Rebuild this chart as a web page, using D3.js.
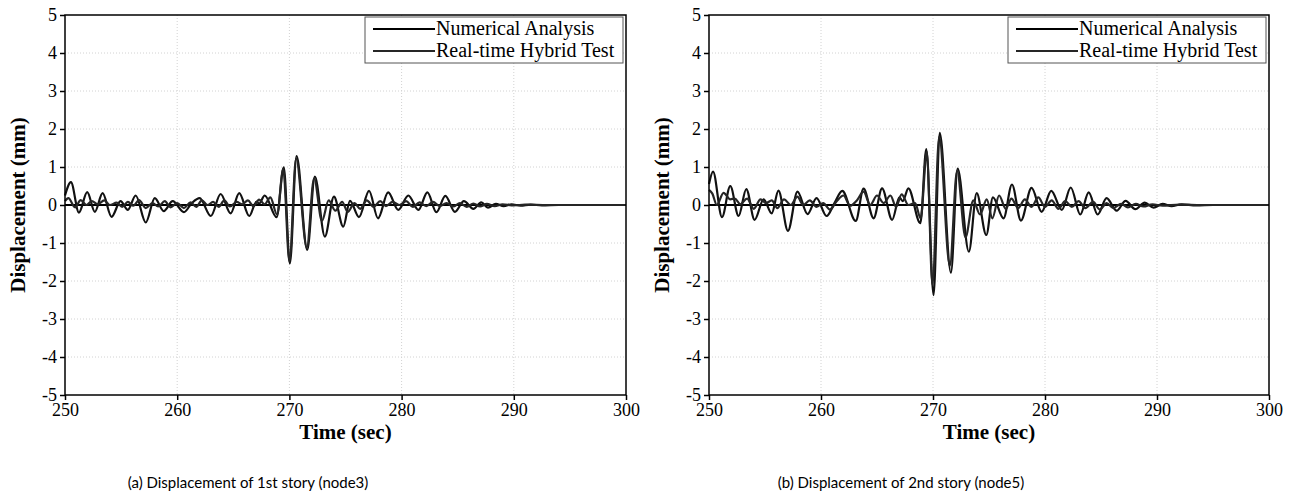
<!DOCTYPE html>
<html>
<head>
<meta charset="utf-8">
<script src="https://cdn.jsdelivr.net/npm/d3@7"></script>
<style>
  body { margin: 0; background: #fff; }
  svg text { fill: #000; }
</style>
</head>
<body>
<div class="figure"></div>
<script>
// ---- data (time in sec, displacement in mm) ----
const xTickValues = [250, 260, 270, 280, 290, 300];
const yTickValues = [-5, -4, -3, -2, -1, 0, 1, 2, 3, 4, 5];
const seriesNames = ["Numerical Analysis", "Real-time Hybrid Test"];
const captions = ["(a) Displacement of 1st story (node3)", "(b) Displacement of 2nd story (node5)"];

// 1st story (node3)
const node3Numerical = [
  [250.0, 0.25], [250.53, 0.60], [251.24, -0.20], [251.98, 0.34], [252.66, -0.18], [253.35, 0.31],
  [254.15, -0.31], [254.95, 0.10], [255.6, -0.13], [256.3, 0.25], [257.2, -0.46], [258.0, 0.18],
  [258.8, -0.16], [259.6, 0.10], [260.6, -0.19], [261.3, 0.05], [262.0, 0.18], [263.0, -0.29],
  [263.87, 0.29], [264.76, -0.22], [265.53, 0.31], [266.42, -0.29], [267.05, 0.08], [267.3, 0.04],
  [267.8, 0.25], [268.86, -0.32], [269.5, 0.99], [270.04, -1.54], [270.64, 1.29], [271.59, -1.18],
  [272.27, 0.75], [273.16, -0.83], [273.97, 0.22], [274.8, -0.57], [275.4, 0.11], [276.2, -0.32],
  [277.1, 0.37], [277.9, -0.35], [278.8, 0.33], [279.7, -0.13], [280.6, 0.25], [281.5, -0.13],
  [282.3, 0.33], [283.1, -0.19], [283.9, 0.24], [284.75, -0.18], [285.55, 0.10], [286.4, -0.10],
  [287.1, 0.07], [287.7, -0.07], [288.4, 0.03], [289.1, -0.03], [289.8, 0.02], [290.6, -0.02],
  [291.5, 0.01], [292.5, -0.01], [294.0, 0.0], [300.0, 0.0]
];
const node3Hybrid = [
  [250.0, 0.10], [250.3, 0.18], [250.9, -0.06], [251.4, 0.13], [251.9, 0.0], [252.4, 0.10],
  [252.9, 0.02], [253.5, 0.12], [254.0, 0.0], [254.6, 0.06], [255.1, -0.05], [255.6, 0.08],
  [256.1, -0.02], [256.6, 0.13], [257.2, -0.08], [257.8, 0.05], [258.3, -0.04], [258.9, 0.10],
  [259.4, -0.06], [260.0, 0.05], [260.6, -0.08], [261.2, 0.07], [261.7, -0.05], [262.2, 0.12],
  [262.7, 0.0], [263.2, 0.08], [263.7, -0.05], [264.2, 0.12], [264.7, -0.04], [265.3, 0.08],
  [265.8, 0.02], [266.3, 0.12], [266.8, -0.03], [267.3, 0.14], [267.8, 0.02], [268.3, 0.20],
  [268.9, -0.25], [269.45, 0.95], [270.0, -1.48], [270.6, 1.22], [271.55, -1.12], [272.2, 0.70],
  [272.9, -0.42], [273.5, 0.12], [274.1, -0.15], [274.7, 0.08], [275.2, -0.18], [275.8, 0.05],
  [276.3, -0.10], [276.9, 0.12], [277.5, -0.05], [278.1, 0.10], [278.6, -0.03], [279.2, 0.08],
  [279.8, 0.0], [280.4, 0.10], [281.0, -0.05], [281.6, 0.07], [282.2, -0.03], [282.8, 0.08],
  [283.4, -0.03], [284.0, 0.05], [284.6, -0.04], [285.2, 0.05], [285.8, -0.05], [286.4, 0.04],
  [287.0, -0.04], [287.6, 0.03], [288.3, -0.03], [289.0, 0.02], [290.0, -0.01], [291.0, 0.01],
  [293.0, 0.0], [300.0, 0.0]
];

// 2nd story (node5)
const node5Numerical = [
  [250.0, 0.55], [250.36, 0.88], [251.16, -0.32], [251.9, 0.50], [252.64, -0.29], [253.33, 0.42],
  [254.07, -0.39], [254.88, 0.15], [255.6, -0.22], [256.2, 0.38], [257.05, -0.68], [257.9, 0.35],
  [258.8, -0.24], [259.6, 0.18], [260.5, -0.29], [261.2, 0.05], [261.9, 0.37], [263.1, -0.42],
  [263.8, 0.43], [264.7, -0.35], [265.45, 0.44], [266.35, -0.39], [267.0, 0.20], [267.3, 0.10],
  [267.8, 0.44], [268.87, -0.48], [269.4, 1.47], [270.05, -2.37], [270.6, 1.90], [271.6, -1.78],
  [272.2, 0.96], [273.2, -1.23], [273.9, 0.31], [274.76, -0.79], [275.35, 0.20], [276.3, -0.35],
  [277.05, 0.54], [277.85, -0.41], [278.8, 0.45], [279.7, -0.18], [280.56, 0.37], [281.5, -0.13],
  [282.3, 0.46], [283.15, -0.25], [283.9, 0.33], [284.7, -0.25], [285.5, 0.18], [286.4, -0.15],
  [287.2, 0.11], [288.06, -0.11], [288.9, 0.06], [289.7, -0.07], [290.5, 0.03], [291.3, -0.03],
  [292.2, 0.02], [293.5, -0.01], [295.0, 0.0], [300.0, 0.0]
];
const node5Hybrid = [
  [250.0, 0.40], [250.3, 0.30], [250.7, 0.0], [251.3, 0.32], [251.9, 0.15], [252.3, 0.17],
  [252.8, 0.02], [253.4, 0.17], [254.0, -0.10], [254.6, 0.15], [255.1, 0.05], [255.6, 0.12],
  [256.1, -0.08], [256.7, 0.15], [257.3, 0.0], [257.9, 0.22], [258.4, 0.0], [259.0, 0.12],
  [259.6, -0.05], [260.2, 0.05], [260.8, -0.12], [261.4, 0.10], [262.0, 0.25], [262.6, -0.02],
  [263.2, 0.12], [263.8, 0.35], [264.4, 0.0], [265.0, 0.25], [265.6, 0.05], [266.2, 0.25],
  [266.7, -0.05], [267.2, 0.28], [267.8, 0.0], [268.4, 0.05], [268.9, -0.35], [269.45, 1.40],
  [269.95, -2.10], [270.55, 1.80], [271.5, -1.60], [272.15, 0.90], [272.9, -0.85], [273.6, 0.12],
  [274.2, -0.25], [274.8, 0.15], [275.3, -0.35], [275.9, 0.25], [276.5, -0.10], [277.0, 0.17],
  [277.6, -0.08], [278.2, 0.15], [278.8, -0.05], [279.4, 0.20], [280.0, -0.05], [280.6, 0.12],
  [281.2, -0.10], [281.8, 0.10], [282.4, -0.05], [283.0, 0.10], [283.6, -0.08], [284.3, 0.08],
  [284.9, -0.12], [285.5, 0.05], [286.1, -0.08], [286.8, 0.03], [287.4, -0.06], [288.1, 0.03],
  [288.8, -0.04], [289.6, 0.02], [290.5, -0.02], [292.0, 0.01], [294.0, 0.0], [300.0, 0.0]
];

const width = 1296, height = 503;
const serif = "'Liberation Serif', 'Times New Roman', serif";
const sans = "Lato, 'Open Sans', 'Noto Sans', sans-serif";

const svg = d3.select(".figure").append("svg")
  .attr("width", width).attr("height", height);

const panels = [
  { left: 65, right: 626, caption: captions[0], numerical: node3Numerical, hybrid: node3Hybrid, capX: 248 },
  { left: 709, right: 1269, caption: captions[1], numerical: node5Numerical, hybrid: node5Hybrid, capX: 901 }
];
const plotTop = 15, plotBottom = 395;

panels.forEach((p) => {
  const g = svg.append("g");

  const x = d3.scaleLinear().domain([250, 300]).range([p.left, p.right]);
  const y = d3.scaleLinear().domain([-5, 5]).range([plotBottom, plotTop]);

  // dotted grid
  g.append("g").selectAll("line")
    .data(xTickValues.slice(1, -1))
    .enter().append("line")
    .attr("x1", d => x(d)).attr("x2", d => x(d))
    .attr("y1", plotTop).attr("y2", plotBottom)
    .attr("stroke", "#d2d2d2").attr("stroke-width", 1).attr("stroke-dasharray", "1,2");
  g.append("g").selectAll("line")
    .data(yTickValues.filter(d => d !== 5 && d !== -5 && d !== 0))
    .enter().append("line")
    .attr("x1", p.left).attr("x2", p.right)
    .attr("y1", d => y(d)).attr("y2", d => y(d))
    .attr("stroke", "#d2d2d2").attr("stroke-width", 1).attr("stroke-dasharray", "1,2");

  // axes
  const yAxis = g.append("g")
    .attr("transform", `translate(${p.left},0)`)
    .call(d3.axisLeft(y).tickValues(yTickValues).tickSize(5).tickSizeOuter(0).tickPadding(3).tickFormat(d3.format("d")));
  const xAxis = g.append("g")
    .attr("transform", `translate(0,${plotBottom})`)
    .call(d3.axisBottom(x).tickValues(xTickValues).tickSize(5).tickSizeOuter(0).tickPadding(3).tickFormat(d3.format("d")));
  [yAxis, xAxis].forEach(a => {
    a.select(".domain").remove();
    a.selectAll(".tick line").attr("stroke", "#000").attr("stroke-width", 1.5);
    a.selectAll(".tick text").attr("font-family", serif).attr("font-size", 18).attr("fill", "#000");
  });
  yAxis.selectAll(".tick text").text(d => d < 0 ? "-" + Math.abs(d) : d);

  // zero line
  g.append("line")
    .attr("x1", p.left).attr("x2", p.right)
    .attr("y1", y(0)).attr("y2", y(0))
    .attr("stroke", "#000").attr("stroke-width", 2);

  // data
  const line = d3.line()
    .x(d => x(d[0]))
    .y(d => y(d[1]))
    .curve(d3.curveMonotoneX);

  g.append("path").datum(p.numerical)
    .attr("fill", "none").attr("stroke", "#111").attr("stroke-width", 2.2)
    .attr("d", line);
  g.append("path").datum(p.hybrid)
    .attr("fill", "none").attr("stroke", "#262626").attr("stroke-width", 2.2)
    .attr("d", line);

  // frame
  g.append("rect")
    .attr("x", p.left).attr("y", plotTop)
    .attr("width", p.right - p.left).attr("height", plotBottom - plotTop)
    .attr("fill", "none").attr("stroke", "#000").attr("stroke-width", 1.5);

  // legend
  const lg = g.append("g").attr("transform", `translate(${p.right - 261},${plotTop + 2})`);
  lg.append("rect")
    .attr("width", 258).attr("height", 46)
    .attr("fill", "#fff").attr("stroke", "#555").attr("stroke-width", 1);
  seriesNames.forEach((name, i) => {
    const ly = 12 + i * 22;
    lg.append("line")
      .attr("x1", 8).attr("x2", 70).attr("y1", ly).attr("y2", ly)
      .attr("stroke", i === 0 ? "#000" : "#262626").attr("stroke-width", 1.8);
    lg.append("text")
      .attr("x", 71).attr("y", ly + 6)
      .attr("font-family", serif).attr("font-size", 20)
      .text(name);
  });

  // axis titles
  g.append("text")
    .attr("transform", `translate(${p.left - 40},${(plotTop + plotBottom) / 2}) rotate(-90)`)
    .attr("text-anchor", "middle")
    .attr("font-family", serif).attr("font-size", 21).attr("font-weight", "bold")
    .text("Displacement (mm)");
  g.append("text")
    .attr("x", (p.left + p.right) / 2).attr("y", 439)
    .attr("text-anchor", "middle")
    .attr("font-family", serif).attr("font-size", 21).attr("font-weight", "bold")
    .text("Time (sec)");

  // caption
  g.append("text")
    .attr("x", p.capX).attr("y", 488)
    .attr("text-anchor", "middle")
    .attr("font-family", sans).attr("font-size", 15)
    .text(p.caption);
});
</script>
</body>
</html>
